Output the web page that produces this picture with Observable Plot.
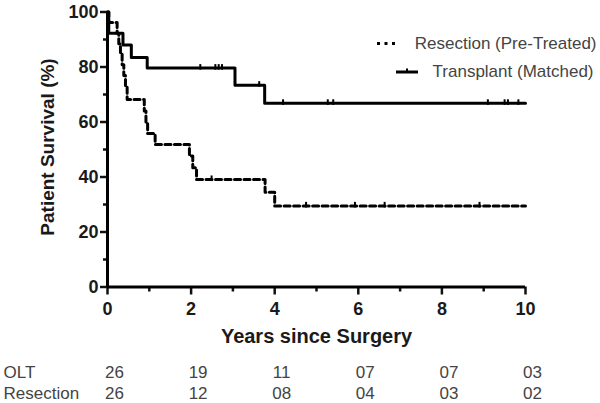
<!DOCTYPE html>
<html><head><meta charset="utf-8">
<script src="https://cdn.jsdelivr.net/npm/d3@7"></script>
<script src="https://cdn.jsdelivr.net/npm/@observablehq/plot@0.6"></script>
<style>
body{margin:0;background:#fff;}
#chart{width:600px;height:403px;}
</style></head><body><div id="chart"></div>
<script>
// Kaplan-Meier step data (years, % survival)
const transplantTimes = [0, 0.03, 0.37, 0.57, 0.95, 3.05, 3.76, 10];
const transplantSurv  = [100, 92.3, 88.0, 83.5, 79.6, 73.4, 66.8, 66.8];
const transplantCensor = [2.22, 2.58, 2.66, 2.74, 3.63, 4.2, 5.27, 5.4, 9.1, 9.5, 9.58, 9.83];
const resectionTimes = [0, 0.03, 0.23, 0.27, 0.31, 0.35, 0.39, 0.43, 0.47, 0.88, 0.92, 0.96, 1.14, 1.96, 2.04, 2.13, 3.77, 4.0, 10];
const resectionSurv  = [100, 96.2, 92.3, 88.5, 84.6, 80.8, 76.9, 73.1, 68.2, 64.0, 60.0, 55.8, 51.8, 47.6, 43.4, 39.1, 34.5, 29.5, 29.5];
const resectionCensor = [2.49, 4.75, 5.92, 6.63, 8.9];
// Numbers at risk
const riskYears = [0, 2, 4, 6, 8, 10];
const oltAtRisk = ["26", "19", "11", "07", "07", "03"];
const resectionAtRisk = ["26", "12", "08", "04", "03", "02"];
const riskRowLabels = ["OLT", "Resection"];
// Ticks and labels
const yTicks = [0, 20, 40, 60, 80, 100];
const yMinor = [10, 30, 50, 70, 90];
const xTicks = [0, 2, 4, 6, 8, 10];
const xMinor = [1, 3, 5, 7, 9];
const seriesNames = ["Resection (Pre-Treated)", "Transplant (Matched)"];
const xTitle = "Years since Surgery";
const yTitle = "Patient Survival (%)";

const toRows = (ts, ss) => ts.map((t, i) => ({t, s: ss[i]}));
const stepAt = (ts, ss, t) => ss[d3.bisectRight(ts, t) - 1];
const transplant = toRows(transplantTimes, transplantSurv);
const resection = toRows(resectionTimes, resectionSurv);
const tCens = transplantCensor.map(t => ({t, s: stepAt(transplantTimes, transplantSurv, t)}));
const rCens = resectionCensor.map(t => ({t, s: stepAt(resectionTimes, resectionSurv, t)}));

const tickSymbol = {draw(ctx, size) { const r = Math.sqrt(size / Math.PI); ctx.moveTo(0, -r); ctx.lineTo(0, r * 0.4); }};

const font = "'Liberation Sans', Arial, Helvetica, sans-serif";
const txt = {lineAnchor: "middle"};
const chart = Plot.plot({
  width: 600, height: 403,
  marginLeft: 107, marginRight: 75, marginTop: 11.5, marginBottom: 116.5,
  x: {domain: [0, 10], axis: null},
  y: {domain: [0, 100], axis: null},
  style: {fontFamily: font, background: "#fff", color: "#111"},
  marks: [
    Plot.axisY(yTicks, {tickSize: 7, tickPadding: 2, strokeWidth: 2.5, fontSize: 18, fontWeight: "bold", fill: "#1a1a1a", label: null}),
    Plot.axisY(yMinor, {tickSize: 4, strokeWidth: 2.5, text: null, label: null}),
    Plot.axisX(xTicks, {tickSize: 8, tickPadding: 7, strokeWidth: 2.5, fontSize: 18, fontWeight: "bold", fill: "#1a1a1a", label: null}),
    Plot.axisX(xMinor, {tickSize: 5, strokeWidth: 2.5, text: null, label: null}),
    Plot.ruleX([0], {y1: 0, y2: 100, strokeWidth: 3, stroke: "#000"}),
    Plot.ruleY([0], {x1: 0, x2: 10, strokeWidth: 3, stroke: "#000"}),
    Plot.line(transplant, {x: "t", y: "s", curve: "step-after", stroke: "#000", strokeWidth: 3}),
    Plot.line(resection, {x: "t", y: "s", curve: "step-after", stroke: "#000", strokeWidth: 3, strokeDasharray: "6,3.5"}),
    Plot.dot(tCens, {x: "t", y: "s", symbol: tickSymbol, r: 4, stroke: "#000", strokeWidth: 2, fill: "none"}),
    Plot.dot(rCens, {x: "t", y: "s", symbol: tickSymbol, r: 4, stroke: "#000", strokeWidth: 2, fill: "none"}),
    Plot.text([yTitle], {...txt, frameAnchor: "left", textAnchor: "middle", rotate: -90, dx: -60, dy: -2.5, fontSize: 19, fontWeight: "bold", fill: "#1a1a1a"}),
    Plot.text([xTitle], {...txt, frameAnchor: "bottom", dy: 49.5, fontSize: 20, fontWeight: "bold", fill: "#1a1a1a"}),
    Plot.text(riskYears, {...txt, x: d => d, text: (d, i) => oltAtRisk[i], frameAnchor: "bottom", dy: 85.5, dx: 7, fontSize: 17, fill: "#444"}),
    Plot.text(riskYears, {...txt, x: d => d, text: (d, i) => resectionAtRisk[i], frameAnchor: "bottom", dy: 106.5, dx: 7, fontSize: 17, fill: "#444"}),
    Plot.text([riskRowLabels[0]], {...txt, frameAnchor: "bottom-left", textAnchor: "start", dx: -104, dy: 85.5, fontSize: 17, fill: "#444"}),
    Plot.text([riskRowLabels[1]], {...txt, frameAnchor: "bottom-left", textAnchor: "start", dx: -104, dy: 106.5, fontSize: 17, fill: "#444"}),
    Plot.text([seriesNames[0]], {...txt, frameAnchor: "top-right", textAnchor: "end", dx: 71, dy: 32, fontSize: 17, fill: "#444"}),
    Plot.text([seriesNames[1]], {...txt, frameAnchor: "top-right", textAnchor: "end", dx: 68, dy: 60, fontSize: 17, fill: "#444"})
  ]
});
document.getElementById("chart").appendChild(chart);

// legend swatches
const svg = d3.select(chart);
const g = svg.append("g").attr("stroke", "#000").attr("stroke-width", 3);
g.append("line").attr("x1", 377).attr("x2", 397).attr("y1", 43.5).attr("y2", 43.5).attr("stroke-dasharray", "3,4.5");
g.append("line").attr("x1", 396).attr("x2", 418).attr("y1", 72).attr("y2", 72);
g.append("line").attr("x1", 407).attr("x2", 407).attr("y1", 68.5).attr("y2", 72).attr("stroke-width", 2);
</script>
</body></html>
